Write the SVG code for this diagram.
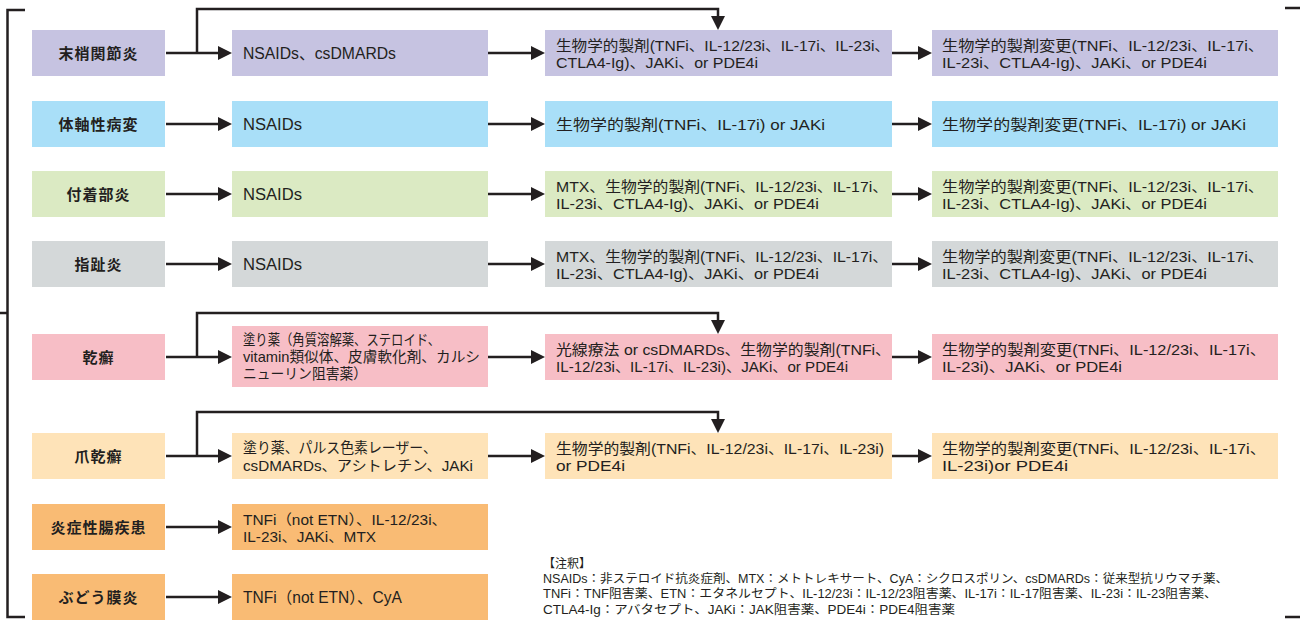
<svg xmlns="http://www.w3.org/2000/svg" width="1300" height="620" viewBox="0 0 1300 620">
<style>
.lbl{font-family:"Noto Sans CJK JP",sans-serif;font-weight:bold;font-size:15px;fill:#231f20;text-anchor:middle;letter-spacing:1px}
.t2{font-family:"Liberation Sans","Noto Sans CJK JP",sans-serif;font-size:16px;fill:#231f20}
.t2s{font-family:"Liberation Sans","Noto Sans CJK JP",sans-serif;font-size:14.5px;fill:#231f20}
.t3{font-family:"Liberation Sans","Noto Sans CJK JP",sans-serif;font-size:14.5px;fill:#231f20}
.nt{font-family:"Liberation Sans","Noto Sans CJK JP",sans-serif;font-size:12px;fill:#231f20}
.ln{fill:none;stroke:#231f20;stroke-width:2.5}
.pu{fill:#c6c3e1}.bl{fill:#a9dff8}.gr{fill:#dbeac3}.gy{fill:#d4d8d9}.pk{fill:#f7bec6}.lo{fill:#fee3b8}.or{fill:#f9bb74}
</style>
<defs>
<marker id="ah" viewBox="0 0 14 14" refX="4" refY="7" markerWidth="14" markerHeight="14" markerUnits="userSpaceOnUse" orient="auto">
<path d="M0,0 L14,7 L0,14 z" fill="#231f20"/>
</marker>
</defs>

<g id="brackets">
<path class="ln" d="M25,10 H7.5 V617 H25"/>
<path class="ln" d="M0,313 H7.5"/>
<path class="ln" d="M1285,8 H1303 V617 H1285"/>
</g>

<g id="connectors">
<path class="ln" d="M166,53 H222" marker-end="url(#ah)"/>
<path class="ln" d="M488,53 H535" marker-end="url(#ah)"/>
<path class="ln" d="M892,53 H922" marker-end="url(#ah)"/>
<path class="ln" d="M197,53 V9 H718 V20" marker-end="url(#ah)"/>

<path class="ln" d="M166,124 H222" marker-end="url(#ah)"/>
<path class="ln" d="M488,124 H535" marker-end="url(#ah)"/>
<path class="ln" d="M892,124 H922" marker-end="url(#ah)"/>

<path class="ln" d="M166,194 H222" marker-end="url(#ah)"/>
<path class="ln" d="M488,194 H535" marker-end="url(#ah)"/>
<path class="ln" d="M892,194 H922" marker-end="url(#ah)"/>

<path class="ln" d="M166,264 H222" marker-end="url(#ah)"/>
<path class="ln" d="M488,264 H535" marker-end="url(#ah)"/>
<path class="ln" d="M892,264 H922" marker-end="url(#ah)"/>

<path class="ln" d="M166,357 H222" marker-end="url(#ah)"/>
<path class="ln" d="M488,357 H535" marker-end="url(#ah)"/>
<path class="ln" d="M892,357 H922" marker-end="url(#ah)"/>
<path class="ln" d="M197,357 V313 H718 V324" marker-end="url(#ah)"/>

<path class="ln" d="M166,456 H222" marker-end="url(#ah)"/>
<path class="ln" d="M488,456 H535" marker-end="url(#ah)"/>
<path class="ln" d="M892,456 H922" marker-end="url(#ah)"/>
<path class="ln" d="M197,456 V412 H718 V423" marker-end="url(#ah)"/>

<path class="ln" d="M166,527 H222" marker-end="url(#ah)"/>
<path class="ln" d="M166,597 H222" marker-end="url(#ah)"/>
</g>

<!-- Row 1 -->
<g id="r1c1"><rect class="pu" x="32" y="30" width="133" height="46"/><text class="lbl" x="98.5" y="58.5">末梢関節炎</text></g>
<g id="r1c2"><rect class="pu" x="232" y="30" width="256" height="46"/><text class="t2" x="243" y="58.5" textLength="153" lengthAdjust="spacingAndGlyphs">NSAIDs、csDMARDs</text></g>
<g id="r1c3"><rect class="pu" x="545" y="30" width="347" height="46"/>
<text class="t3" x="556" y="51" textLength="334" lengthAdjust="spacingAndGlyphs">生物学的製剤(TNFi、IL-12/23i、IL-17i、IL-23i、</text>
<text class="t3" x="556" y="67.5" textLength="202" lengthAdjust="spacingAndGlyphs">CTLA4-Ig)、JAKi、or PDE4i</text></g>
<g id="r1c4"><rect class="pu" x="932" y="30" width="346" height="46"/>
<text class="t3" x="942" y="51" textLength="322" lengthAdjust="spacingAndGlyphs">生物学的製剤変更(TNFi、IL-12/23i、IL-17i、</text>
<text class="t3" x="942" y="67.5" textLength="265" lengthAdjust="spacingAndGlyphs">IL-23i、CTLA4-Ig)、JAKi、or PDE4i</text></g>

<!-- Row 2 -->
<g id="r2c1"><rect class="bl" x="32" y="101" width="133" height="46"/><text class="lbl" x="98.5" y="129.5">体軸性病変</text></g>
<g id="r2c2"><rect class="bl" x="232" y="101" width="256" height="46"/><text class="t2" x="243" y="129.5" textLength="59" lengthAdjust="spacingAndGlyphs">NSAIDs</text></g>
<g id="r2c3"><rect class="bl" x="545" y="101" width="347" height="46"/><text class="t3" x="556" y="129.5" textLength="269" lengthAdjust="spacingAndGlyphs">生物学的製剤(TNFi、IL-17i) or JAKi</text></g>
<g id="r2c4"><rect class="bl" x="932" y="101" width="346" height="46"/><text class="t3" x="942" y="129.5" textLength="304" lengthAdjust="spacingAndGlyphs">生物学的製剤変更(TNFi、IL-17i) or JAKi</text></g>

<!-- Row 3 -->
<g id="r3c1"><rect class="gr" x="32" y="171" width="133" height="46"/><text class="lbl" x="98.5" y="199.5">付着部炎</text></g>
<g id="r3c2"><rect class="gr" x="232" y="171" width="256" height="46"/><text class="t2" x="243" y="199.5" textLength="59" lengthAdjust="spacingAndGlyphs">NSAIDs</text></g>
<g id="r3c3"><rect class="gr" x="545" y="171" width="347" height="46"/>
<text class="t3" x="556" y="192" textLength="332" lengthAdjust="spacingAndGlyphs">MTX、生物学的製剤(TNFi、IL-12/23i、IL-17i、</text>
<text class="t3" x="556" y="208.5" textLength="263" lengthAdjust="spacingAndGlyphs">IL-23i、CTLA4-Ig)、JAKi、or PDE4i</text></g>
<g id="r3c4"><rect class="gr" x="932" y="171" width="346" height="46"/>
<text class="t3" x="942" y="192" textLength="322" lengthAdjust="spacingAndGlyphs">生物学的製剤変更(TNFi、IL-12/23i、IL-17i、</text>
<text class="t3" x="942" y="208.5" textLength="265" lengthAdjust="spacingAndGlyphs">IL-23i、CTLA4-Ig)、JAKi、or PDE4i</text></g>

<!-- Row 4 -->
<g id="r4c1"><rect class="gy" x="32" y="241" width="133" height="46"/><text class="lbl" x="98.5" y="269.5">指趾炎</text></g>
<g id="r4c2"><rect class="gy" x="232" y="241" width="256" height="46"/><text class="t2" x="243" y="269.5" textLength="59" lengthAdjust="spacingAndGlyphs">NSAIDs</text></g>
<g id="r4c3"><rect class="gy" x="545" y="241" width="347" height="46"/>
<text class="t3" x="556" y="262" textLength="332" lengthAdjust="spacingAndGlyphs">MTX、生物学的製剤(TNFi、IL-12/23i、IL-17i、</text>
<text class="t3" x="556" y="278.5" textLength="263" lengthAdjust="spacingAndGlyphs">IL-23i、CTLA4-Ig)、JAKi、or PDE4i</text></g>
<g id="r4c4"><rect class="gy" x="932" y="241" width="346" height="46"/>
<text class="t3" x="942" y="262" textLength="322" lengthAdjust="spacingAndGlyphs">生物学的製剤変更(TNFi、IL-12/23i、IL-17i、</text>
<text class="t3" x="942" y="278.5" textLength="265" lengthAdjust="spacingAndGlyphs">IL-23i、CTLA4-Ig)、JAKi、or PDE4i</text></g>

<!-- Row 5 -->
<g id="r5c1"><rect class="pk" x="32" y="334" width="133" height="46"/><text class="lbl" x="98.5" y="362.5">乾癬</text></g>
<g id="r5c2"><rect class="pk" x="232" y="326" width="256" height="61"/>
<text class="t2s" x="243" y="344.5" textLength="197" lengthAdjust="spacingAndGlyphs">塗り薬（角質溶解薬、ステロイド、</text>
<text class="t2s" x="243" y="362" textLength="237" lengthAdjust="spacingAndGlyphs">vitamin類似体、皮膚軟化剤、カルシ</text>
<text class="t2s" x="243" y="379" textLength="124" lengthAdjust="spacingAndGlyphs">ニューリン阻害薬）</text></g>
<g id="r5c3"><rect class="pk" x="545" y="334" width="347" height="46"/>
<text class="t3" x="556" y="355" textLength="335" lengthAdjust="spacingAndGlyphs">光線療法 or csDMARDs、生物学的製剤(TNFi、</text>
<text class="t3" x="556" y="371.5" textLength="292" lengthAdjust="spacingAndGlyphs">IL-12/23i、IL-17i、IL-23i)、JAKi、or PDE4i</text></g>
<g id="r5c4"><rect class="pk" x="932" y="334" width="346" height="46"/>
<text class="t3" x="942" y="355" textLength="324" lengthAdjust="spacingAndGlyphs">生物学的製剤変更(TNFi、IL-12/23i、IL-17i、</text>
<text class="t3" x="942" y="371.5" textLength="180" lengthAdjust="spacingAndGlyphs">IL-23i)、JAKi、or PDE4i</text></g>

<!-- Row 6 -->
<g id="r6c1"><rect class="lo" x="32" y="433" width="133" height="46"/><text class="lbl" x="98.5" y="461.5">爪乾癬</text></g>
<g id="r6c2"><rect class="lo" x="232" y="433" width="256" height="46"/>
<text class="t2s" x="243" y="453" textLength="194" lengthAdjust="spacingAndGlyphs">塗り薬、パルス色素レーザー、</text>
<text class="t2s" x="243" y="470.5" textLength="230" lengthAdjust="spacingAndGlyphs">csDMARDs、アシトレチン、JAKi</text></g>
<g id="r6c3"><rect class="lo" x="545" y="433" width="347" height="46"/>
<text class="t3" x="556" y="454" textLength="328" lengthAdjust="spacingAndGlyphs">生物学的製剤(TNFi、IL-12/23i、IL-17i、IL-23i)</text>
<text class="t3" x="556" y="470.5" textLength="69" lengthAdjust="spacingAndGlyphs">or PDE4i</text></g>
<g id="r6c4"><rect class="lo" x="932" y="433" width="346" height="46"/>
<text class="t3" x="942" y="454" textLength="324" lengthAdjust="spacingAndGlyphs">生物学的製剤変更(TNFi、IL-12/23i、IL-17i、</text>
<text class="t3" x="942" y="470.5" textLength="126" lengthAdjust="spacingAndGlyphs">IL-23i)or PDE4i</text></g>

<!-- Row 7 -->
<g id="r7c1"><rect class="or" x="32" y="504" width="133" height="46"/><text class="lbl" x="98.5" y="532.5">炎症性腸疾患</text></g>
<g id="r7c2"><rect class="or" x="232" y="504" width="256" height="46"/>
<text class="t2s" x="243" y="525" textLength="204" lengthAdjust="spacingAndGlyphs">TNFi（not ETN）、IL-12/23i、</text>
<text class="t2s" x="243" y="541.5" textLength="133" lengthAdjust="spacingAndGlyphs">IL-23i、JAKi、MTX</text></g>

<!-- Row 8 -->
<g id="r8c1"><rect class="or" x="32" y="574" width="133" height="46"/><text class="lbl" x="98.5" y="602.5">ぶどう膜炎</text></g>
<g id="r8c2"><rect class="or" x="232" y="574" width="256" height="46"/>
<text class="t2" x="243" y="602.5" textLength="159" lengthAdjust="spacingAndGlyphs">TNFi（not ETN）、CyA</text></g>

<g id="notes">
<text class="nt" x="543" y="567.5">【注釈】</text>
<text class="nt" x="543" y="582.5" textLength="685" lengthAdjust="spacingAndGlyphs">NSAIDs：非ステロイド抗炎症剤、MTX：メトトレキサート、CyA：シクロスポリン、csDMARDs：従来型抗リウマチ薬、</text>
<text class="nt" x="543" y="598" textLength="674" lengthAdjust="spacingAndGlyphs">TNFi：TNF阻害薬、ETN：エタネルセプト、IL-12/23i：IL-12/23阻害薬、IL-17i：IL-17阻害薬、IL-23i：IL-23阻害薬、</text>
<text class="nt" x="543" y="613.5" textLength="412" lengthAdjust="spacingAndGlyphs">CTLA4-Ig：アバタセプト、JAKi：JAK阻害薬、PDE4i：PDE4阻害薬</text>
</g>
</svg>
